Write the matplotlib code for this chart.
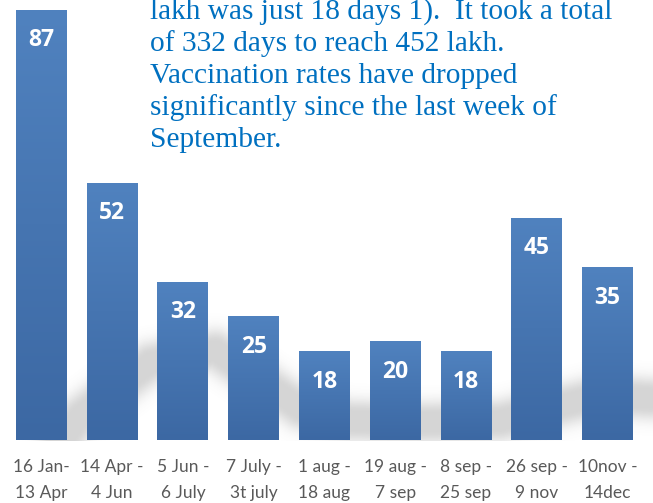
import numpy as np
import matplotlib.pyplot as plt

W, H = 653, 503

periods = ["16 Jan-\n13 Apr", "14 Apr -\n4 Jun", "5 Jun -\n6 July", "7 July -\n3t july",
           "1 aug -\n18 aug", "19 aug -\n7 sep", "8 sep -\n25 sep", "26 sep -\n9 nov",
           "10nov -\n14dec"]
values = [87, 52, 32, 25, 18, 20, 18, 45, 35]

note_lines = ["lakh was just 18 days 1).  It took a total",
              "of 332 days to reach 452 lakh.",
              "Vaccination rates have dropped",
              "significantly since the last week of",
              "September."]

fig = plt.figure(figsize=(W / 100, H / 100), dpi=100)

# soft grey shadow sweeping behind the bars
shadow_path = np.array([(55, 450), (80, 415), (150, 362), (215, 350), (260, 380),
                        (300, 408), (350, 420), (420, 422), (500, 420), (560, 405),
                        (600, 395), (650, 398)], dtype=float)
yy, xx = np.mgrid[0:H, 0:W].astype(float)
dist = np.full((H, W), 1e9)
for (x0, y0), (x1, y1) in zip(shadow_path[:-1], shadow_path[1:]):
    dx, dy = x1 - x0, y1 - y0
    t = np.clip(((xx - x0) * dx + (yy - y0) * dy) / (dx * dx + dy * dy), 0, 1)
    d = np.hypot(xx - (x0 + t * dx), yy - (y0 + t * dy))
    dist = np.minimum(dist, d)
alpha = 0.3 * np.exp(-np.maximum(dist - 8, 0) ** 2 / (2 * 10.0 ** 2))
alpha[yy > 440] = 0
shadow = np.zeros((H, W, 4))
shadow[..., :3] = 0.45
shadow[..., 3] = alpha
bg = fig.add_axes([0, 0, 1, 1], zorder=0)
bg.imshow(shadow, extent=(0, W, H, 0), aspect="auto", interpolation="bilinear")
bg.set_xlim(0, W)
bg.set_ylim(H, 0)
bg.axis("off")

ax = fig.add_axes([6 / W, 1 - 440 / H, 637 / W, 440 / H], zorder=1)
ax.patch.set_alpha(0)
x = np.arange(len(values))
bars = ax.bar(x, values, width=0.72, color="#4a7ab7")

grad = np.linspace(0, 1, 256).reshape(-1, 1)
top_c = np.array([80, 130, 191]) / 255
bot_c = np.array([60, 104, 163]) / 255
grad_img = (top_c * (1 - grad) + bot_c * grad).reshape(256, 1, 3)
for b in bars:
    x0, w, h = b.get_x(), b.get_width(), b.get_height()
    im = ax.imshow(grad_img, extent=(x0, x0 + w, 0, h), aspect="auto", zorder=2)
    im.set_clip_path(b)

for xi, v in zip(x, values):
    ax.annotate(str(v), (xi, v), xytext=(0, -22), textcoords="offset points",
                ha="center", va="center", color="white", fontsize=16.5,
                fontweight="bold", family="Open Sans", zorder=3)

ax.set_xlim(-0.5, len(values) - 0.5)
ax.set_ylim(0, 89)
ax.set_xticks(x)
ax.set_xticklabels(periods, fontsize=12.5, family="Lato", color="#595959",
                   linespacing=1.7)
ax.tick_params(axis="x", length=0, pad=14)
ax.set_yticks([])
for s in ax.spines.values():
    s.set_visible(False)

# the note runs off the top edge in the original, so its first line is cut
for i, line in enumerate(note_lines):
    fig.text(150 / W, 1 - (19 + 32 * i) / H, line, family="Liberation Serif",
             fontsize=21.2, color="#0070c0", va="baseline", ha="left", zorder=5)

fig.savefig("out.png", dpi=100)
